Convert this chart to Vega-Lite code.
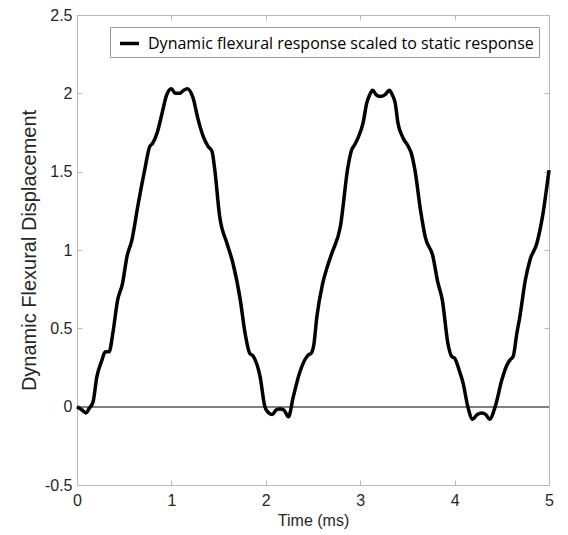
{
  "$schema": "https://vega.github.io/schema/vega-lite/v6.json",
  "width": 472,
  "height": 470,
  "autosize": {"type": "none"},
  "padding": {"left": 77, "top": 15, "right": 19, "bottom": 50},
  "background": "white",
  "config": {
    "view": {"stroke": null},
    "axis": {
      "grid": false,
      "domainColor": "#b8b8b8",
      "domainWidth": 1,
      "tickColor": "#b8b8b8",
      "tickSize": -5,
      "labelFont": "Liberation Sans",
      "titleFont": "Liberation Sans",
      "labelFontSize": 16,
      "titleFontSize": 16,
      "titleFontWeight": "normal",
      "labelColor": "#262626",
      "titleColor": "#262626",
      "labelFlush": false,
      "labelOverlap": false
    }
  },
  "data": {
    "values": [
      {"t": 0.0, "d": 0.0}, {"t": 0.05, "d": -0.02}, {"t": 0.095, "d": -0.04}, {"t": 0.13, "d": -0.01},
      {"t": 0.17, "d": 0.03}, {"t": 0.21, "d": 0.19}, {"t": 0.26, "d": 0.29}, {"t": 0.3, "d": 0.35},
      {"t": 0.34, "d": 0.35}, {"t": 0.38, "d": 0.47}, {"t": 0.43, "d": 0.68}, {"t": 0.48, "d": 0.78},
      {"t": 0.53, "d": 0.96}, {"t": 0.58, "d": 1.06}, {"t": 0.65, "d": 1.3}, {"t": 0.72, "d": 1.52},
      {"t": 0.77, "d": 1.66}, {"t": 0.8, "d": 1.68}, {"t": 0.85, "d": 1.75}, {"t": 0.9, "d": 1.87},
      {"t": 0.95, "d": 1.99}, {"t": 1.0, "d": 2.03}, {"t": 1.04, "d": 2.0}, {"t": 1.09, "d": 2.0},
      {"t": 1.13, "d": 2.02}, {"t": 1.17, "d": 2.03}, {"t": 1.23, "d": 1.97}, {"t": 1.28, "d": 1.84},
      {"t": 1.34, "d": 1.72}, {"t": 1.39, "d": 1.66}, {"t": 1.43, "d": 1.63}, {"t": 1.46, "d": 1.51},
      {"t": 1.51, "d": 1.22}, {"t": 1.59, "d": 1.04}, {"t": 1.65, "d": 0.92}, {"t": 1.73, "d": 0.68},
      {"t": 1.78, "d": 0.47}, {"t": 1.83, "d": 0.34}, {"t": 1.87, "d": 0.32}, {"t": 1.94, "d": 0.19},
      {"t": 1.99, "d": 0.0}, {"t": 2.03, "d": -0.04}, {"t": 2.07, "d": -0.05}, {"t": 2.11, "d": -0.02},
      {"t": 2.15, "d": -0.015}, {"t": 2.19, "d": -0.02}, {"t": 2.24, "d": -0.065}, {"t": 2.29, "d": 0.06},
      {"t": 2.36, "d": 0.22}, {"t": 2.45, "d": 0.33}, {"t": 2.48, "d": 0.34}, {"t": 2.51, "d": 0.4},
      {"t": 2.54, "d": 0.57}, {"t": 2.6, "d": 0.78}, {"t": 2.65, "d": 0.89}, {"t": 2.7, "d": 0.98},
      {"t": 2.79, "d": 1.15}, {"t": 2.87, "d": 1.53}, {"t": 2.91, "d": 1.64}, {"t": 2.94, "d": 1.67},
      {"t": 2.98, "d": 1.72}, {"t": 3.03, "d": 1.81}, {"t": 3.07, "d": 1.94}, {"t": 3.1, "d": 1.99},
      {"t": 3.13, "d": 2.02}, {"t": 3.17, "d": 1.99}, {"t": 3.21, "d": 1.98}, {"t": 3.26, "d": 1.99},
      {"t": 3.31, "d": 2.02}, {"t": 3.34, "d": 1.99}, {"t": 3.37, "d": 1.94}, {"t": 3.4, "d": 1.81},
      {"t": 3.45, "d": 1.72}, {"t": 3.51, "d": 1.66}, {"t": 3.54, "d": 1.62}, {"t": 3.58, "d": 1.51},
      {"t": 3.64, "d": 1.25}, {"t": 3.69, "d": 1.08}, {"t": 3.77, "d": 0.96}, {"t": 3.82, "d": 0.8},
      {"t": 3.87, "d": 0.68}, {"t": 3.93, "d": 0.4}, {"t": 3.97, "d": 0.32}, {"t": 4.0, "d": 0.31},
      {"t": 4.05, "d": 0.23}, {"t": 4.09, "d": 0.15}, {"t": 4.14, "d": 0.0}, {"t": 4.19, "d": -0.08},
      {"t": 4.24, "d": -0.05}, {"t": 4.29, "d": -0.04}, {"t": 4.33, "d": -0.05}, {"t": 4.37, "d": -0.08},
      {"t": 4.43, "d": 0.0}, {"t": 4.5, "d": 0.17}, {"t": 4.55, "d": 0.26}, {"t": 4.59, "d": 0.3},
      {"t": 4.62, "d": 0.32}, {"t": 4.66, "d": 0.47}, {"t": 4.69, "d": 0.57}, {"t": 4.75, "d": 0.81},
      {"t": 4.8, "d": 0.94}, {"t": 4.87, "d": 1.04}, {"t": 4.93, "d": 1.21}, {"t": 5.0, "d": 1.51}
    ]
  },
  "layer": [
    {
      "mark": {"type": "rule", "color": "#808080", "strokeWidth": 1},
      "encoding": {
        "y": {"datum": 0, "type": "quantitative", "scale": {"domain": [-0.5, 2.5], "nice": false, "zero": false}, "axis": null}
      }
    },
    {
      "mark": {"type": "line", "opacity": 0},
      "encoding": {
        "x": {"field": "t", "type": "quantitative", "scale": {"domain": [0, 5], "nice": false},
              "axis": {"orient": "top", "labels": false, "title": null, "values": [0, 1, 2, 3, 4, 5]}},
        "y": {"field": "d", "type": "quantitative", "scale": {"domain": [-0.5, 2.5], "nice": false, "zero": false},
              "axis": {"orient": "right", "labels": false, "title": null, "values": [-0.5, 0, 0.5, 1, 1.5, 2, 2.5]}}
      }
    },
    {
      "mark": {"type": "line", "strokeWidth": 3.5, "interpolate": "monotone"},
      "encoding": {
        "x": {"field": "t", "type": "quantitative", "scale": {"domain": [0, 5], "nice": false},
              "axis": {"orient": "bottom", "title": "Time (ms)", "values": [0, 1, 2, 3, 4, 5], "labelExpr": "datum.value + ''", "labelPadding": 12, "titlePadding": 4}},
        "y": {"field": "d", "type": "quantitative", "scale": {"domain": [-0.5, 2.5], "nice": false, "zero": false},
              "axis": {"orient": "left", "title": "Dynamic Flexural Displacement", "values": [-0.5, 0, 0.5, 1, 1.5, 2, 2.5], "labelExpr": "datum.value + ''", "labelPadding": 10, "titlePadding": 5, "titleFontSize": 20}},
        "color": {
          "datum": "Dynamic flexural response scaled to static response",
          "scale": {"range": ["#000000"]},
          "legend": {
            "orient": "none", "legendX": 33, "legendY": 12, "title": null,
            "symbolType": "stroke", "symbolStrokeWidth": 3.5, "symbolSize": 361, "symbolStrokeColor": "#000000",
            "symbolOffset": 3, "labelOffset": 7, "labelLimit": 0,
            "labelFont": "Open Sans", "labelFontSize": 16, "labelColor": "#000000",
            "strokeColor": "#9a9a9a", "fillColor": "white", "padding": 5
          }
        }
      }
    }
  ],
  "resolve": {"axis": {"x": "independent", "y": "independent"}}
}
